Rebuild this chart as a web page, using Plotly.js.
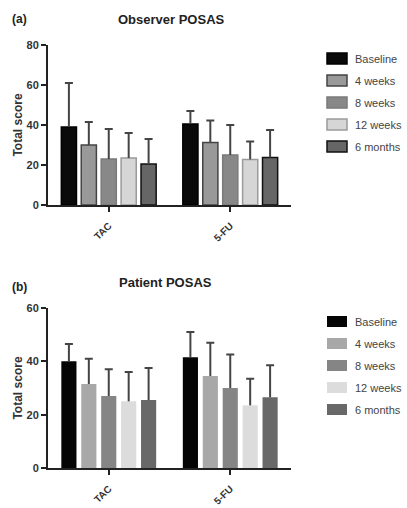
<!DOCTYPE html>
<html><head><meta charset="utf-8">
<script src="https://cdn.plot.ly/plotly-3.0.1.min.js"></script>
<style>html,body{margin:0;padding:0;background:#fff}#chart{width:407px;height:508px}</style>
</head><body><div id="chart"></div>
<script>
const categories = ['TAC', '5-FU'];
const seriesNames = ['Baseline', '4 weeks', '8 weeks', '12 weeks', '6 months'];

// Observer POSAS (mean, upper error)
const obsBaseline = [39, 40.5];   const obsBaselineSD = [22, 6.5];
const obs4w = [30, 31.2];         const obs4wSD = [11.5, 11];
const obs8w = [23, 25];           const obs8wSD = [15, 15];
const obs12w = [23.5, 22.8];      const obs12wSD = [12.5, 9];
const obs6m = [20.5, 23.8];       const obs6mSD = [12.5, 13.7];

// Patient POSAS
const patBaseline = [40, 41.5];   const patBaselineSD = [6.5, 9.5];
const pat4w = [31.5, 34.5];       const pat4wSD = [9.5, 12.5];
const pat8w = [27, 30];           const pat8wSD = [10, 12.6];
const pat12w = [25, 23.5];        const pat12wSD = [11, 10];
const pat6m = [25.5, 26.5];       const pat6mSD = [12, 12];

const obsMeans = [obsBaseline, obs4w, obs8w, obs12w, obs6m];
const obsSDs = [obsBaselineSD, obs4wSD, obs8wSD, obs12wSD, obs6mSD];
const patMeans = [patBaseline, pat4w, pat8w, pat12w, pat6m];
const patSDs = [patBaselineSD, pat4wSD, pat8wSD, pat12wSD, pat6mSD];

const obsFill = ['#0a0a0a', '#999999', '#888888', '#d6d6d6', '#666666'];
const obsLine = ['#000000', '#444444', '#7a7a7a', '#9a9a9a', '#111111'];
const patFill = ['#050505', '#a8a8a8', '#858585', '#dcdcdc', '#686868'];

const font = 'Liberation Sans, Arial, sans-serif';
const errColor = '#444';
const traces = [];

function addPanel(means, sds, fills, lines, lineW, xa, ya, leg, prefix) {
  seriesNames.forEach((name, i) => {
    traces.push({
      type: 'bar', x: categories, y: means[i], name: name,
      xaxis: xa, yaxis: ya, legend: leg, legendgroup: prefix + i, offsetgroup: prefix + i,
      marker: {color: fills[i], line: {color: lines[i], width: lineW}},
      error_y: {type: 'data', symmetric: false, array: sds[i], arrayminus: sds[i].map(() => 0),
        color: errColor, thickness: 2, width: 0}
    });
  });
  // caps at the top of each error bar (transparent bars in the same slots)
  seriesNames.forEach((name, i) => {
    traces.push({
      type: 'bar', x: categories, y: means[i].map((m, k) => m + sds[i][k]), name: name,
      xaxis: xa, yaxis: ya, legend: leg, showlegend: false, offsetgroup: prefix + i,
      marker: {color: 'rgba(0,0,0,0)', line: {width: 0}}, hoverinfo: 'skip',
      error_y: {type: 'data', array: means[i].map(() => 0), color: errColor, thickness: 2, width: 4}
    });
  });
}
addPanel(obsMeans, obsSDs, obsFill, obsLine, 1.5, 'x', 'y', 'legend', 'o');
addPanel(patMeans, patSDs, patFill, patFill, 0, 'x2', 'y2', 'legend2', 'p');

const W = 407, H = 508;
const xd = [48 / W, 291 / W];
const yAxisCommon = {
  showline: true, linecolor: '#222', linewidth: 2, ticks: 'outside', ticklen: 5, tickwidth: 2,
  tickcolor: '#222', showgrid: false, zeroline: false, dtick: 20,
  tickfont: {family: font, size: 11, color: '#333', weight: 'bold'},
  title: {text: 'Total score', font: {family: font, size: 12, color: '#333', weight: 'bold'}, standoff: 1}
};
const xAxisCommon = {
  showline: true, linecolor: '#222', linewidth: 2, ticks: 'outside', ticklen: 5, tickwidth: 2,
  tickcolor: '#222', showgrid: false, zeroline: false, tickangle: -45, range: [-0.5, 1.5],
  ticklabelstandoff: 4,
  tickfont: {family: font, size: 10, color: '#333', weight: 'bold'}
};
const legendCommon = {
  font: {family: font, size: 11, color: '#444'}, tracegroupgap: 3, bgcolor: 'rgba(0,0,0,0)',
  xanchor: 'left', yanchor: 'top', itemclick: false
};

const layout = {
  width: W, height: H, margin: {l: 0, r: 0, t: 0, b: 0},
  paper_bgcolor: '#fff', plot_bgcolor: '#fff', barmode: 'group', bargap: 0.18, bargroupgap: 0.24,
  font: {family: font},
  xaxis: Object.assign({}, xAxisCommon, {domain: xd, anchor: 'y'}),
  yaxis: Object.assign({}, yAxisCommon, {domain: [1 - 205 / H, 1 - 45 / H], range: [0, 80], anchor: 'x'}),
  xaxis2: Object.assign({}, xAxisCommon, {domain: xd, anchor: 'y2'}),
  yaxis2: Object.assign({}, yAxisCommon, {domain: [1 - 468 / H, 1 - 308 / H], range: [0, 60], anchor: 'x2'}),
  legend: Object.assign({}, legendCommon, {x: 315 / W, y: 1 - 44 / H}),
  legend2: Object.assign({}, legendCommon, {x: 315 / W, y: 1 - 307 / H}),
  showlegend: true,
  annotations: [
    {text: '(a)', xref: 'paper', yref: 'paper', x: 10 / W, y: 1 - 19 / H, xanchor: 'left', yanchor: 'middle',
      showarrow: false, font: {family: font, size: 12, color: '#222', weight: 'bold'}},
    {text: 'Observer POSAS', xref: 'paper', yref: 'paper', x: 171 / W, y: 1 - 19 / H, xanchor: 'center', yanchor: 'middle',
      showarrow: false, font: {family: font, size: 13, color: '#222', weight: 'bold'}},
    {text: '(b)', xref: 'paper', yref: 'paper', x: 10 / W, y: 1 - 287 / H, xanchor: 'left', yanchor: 'middle',
      showarrow: false, font: {family: font, size: 12, color: '#222', weight: 'bold'}},
    {text: 'Patient POSAS', xref: 'paper', yref: 'paper', x: 165 / W, y: 1 - 282 / H, xanchor: 'center', yanchor: 'middle',
      showarrow: false, font: {family: font, size: 13, color: '#222', weight: 'bold'}}
  ]
};
Plotly.newPlot('chart', traces, layout, {displayModeBar: false, staticPlot: true}).then(gd => {
  // reshape legend swatches to the reference's wide rectangles (keeping Plotly's own placement)
  gd.querySelectorAll('.legendpoints path').forEach(p => {
    p.setAttribute('d', 'M12,5.5H-8V-5.5H12Z');
  });
});
</script></body></html>
